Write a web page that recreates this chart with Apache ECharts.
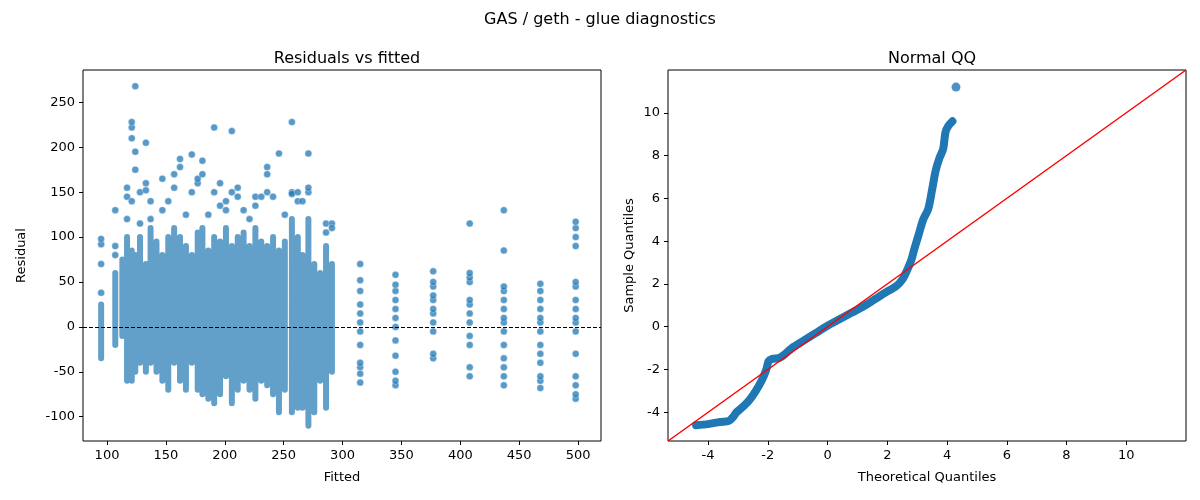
<!DOCTYPE html>
<html>
<head>
<meta charset="utf-8">
<script src="https://cdn.jsdelivr.net/npm/echarts@6/dist/echarts.min.js"></script>
<style>html,body{margin:0;padding:0;background:#fff}#chart{width:1200px;height:500px}</style>
</head>
<body>
<div id="chart"></div>
<script>
// dense fitted columns: x, lower and upper edge of the packed points
var denseX  = [95,107,113,117,121,124,128,133,137,142,147,152,157,162,167,172,177,181,186,191,196,201,206,211,216,221,226,231,236,241,246,251,257,262,266,271,276,281,286,291];
var denseLo = [-35,-20,-10,-60,-60,-50,-40,-50,-40,-50,-60,-70,-40,-60,-70,-40,-70,-75,-80,-85,-75,-55,-85,-70,-60,-70,-80,-60,-65,-75,-95,-70,-95,-90,-90,-110,-95,-60,-90,-50];
var denseHi = [25,60,75,100,85,80,100,70,110,95,80,100,110,100,90,80,105,110,85,100,95,110,90,100,105,90,110,95,90,100,85,95,120,100,80,120,70,60,90,70];
// isolated points [fitted, residual]
var outliers = [[95,38],[95,70],[95,92],[95,98],[107,80],[107,90],[107,130],[117,120],[117,145],[117,155],
  [121,210],[121,222],[121,228],[121,140],[124,268],[124,175],[124,195],[128,115],[128,150],[133,160],[133,152],[133,205],
  [137,120],[137,140],[147,130],[147,165],[152,140],[157,170],[157,155],[162,187],[162,178],[167,125],[172,192],[172,150],
  [177,160],[177,165],[181,185],[181,170],[186,125],[191,222],[191,150],[196,160],[196,135],[201,140],[201,130],
  [206,218],[206,150],[211,145],[211,155],[216,130],[221,120],[226,145],[226,135],[231,145],[236,170],[236,178],[236,150],
  [241,145],[246,193],[251,125],[257,150],[257,148],[257,228],[262,140],[262,150],[266,140],[271,150],[271,155],[271,193],
  [286,115],[286,105],[291,115],[291,110]];
// sparse columns at high fitted values
var sparseX = [315,345,377,408,437,468,498];
var sparseRes = [
  [-62,-52,-45,-40,-20,-5,5,15,25,40,52,70],
  [-65,-60,-50,-32,-15,0,10,20,30,40,47,58],
  [-35,-30,-5,5,15,20,30,35,45,50,62],
  [-55,-45,-20,-10,5,15,25,30,50,55,60,115],
  [-65,-55,-45,-35,-20,-5,5,10,20,30,40,45,85,130],
  [-68,-60,-55,-40,-30,-20,-5,5,10,20,30,40,48],
  [-80,-75,-65,-55,-30,-5,5,10,20,30,45,50,90,100,110,117]
];
// QQ curve
var qqTheo   = [-4.4,-4.0,-3.6,-3.3,-3.15,-3.05,-2.8,-2.6,-2.4,-2.2,-2.05,-1.97,-1.85,-1.6,-1.4,-1.2,-0.8,-0.4,0,0.4,0.8,1.2,1.6,2.0,2.3,2.5,2.65,2.8,2.9,3.05,3.2,3.37,3.5,3.62,3.75,3.87,3.95,4.05,4.18];
var qqSample = [-4.6,-4.55,-4.45,-4.4,-4.2,-4.0,-3.7,-3.4,-3.0,-2.5,-2.0,-1.6,-1.5,-1.45,-1.25,-1.0,-0.65,-0.3,0.05,0.35,0.65,0.95,1.3,1.65,1.9,2.2,2.6,3.1,3.6,4.3,5.0,5.5,6.4,7.3,7.9,8.3,9.1,9.4,9.6];
var qqTop = [[4.3,11.2]];
var leftXTicks = [100,150,200,250,300,350,400,450,500];
var leftYTicks = [-100,-50,0,50,100,150,200,250];
var qqTicks = [-4,-2,0,2,4,6,8,10];

var blue = '#1f77b4';
var font = 'DejaVu Sans';
var segData = [];
for (var i = 0; i < denseX.length; i++) {
  segData.push([denseX[i], denseLo[i]], [denseX[i], denseHi[i]], '-');
}
var sparseData = [];
sparseX.forEach(function (x, k) { sparseRes[k].forEach(function (r) { sparseData.push([x, r]); }); });
var qqData = qqTheo.map(function (t, i) { return [t, qqSample[i]]; });

function axisCommon(ticks) {
  return {
    axisLine: {show: false, onZero: false},
    axisTick: {show: true, customValues: ticks, length: 4, lineStyle: {color: '#000'}},
    axisLabel: {customValues: ticks, color: '#000', fontFamily: font, fontSize: 13},
    splitLine: {show: false},
    nameTextStyle: {color: '#000', fontFamily: font, fontSize: 13}
  };
}
var chart = echarts.init(document.getElementById('chart'));
chart.setOption({
  animation: false,
  title: [
    {text: 'GAS / geth - glue diagnostics', left: 'center', top: 7, textStyle: {fontFamily: font, fontSize: 16, fontWeight: 'normal', color: '#000'}},
    {text: 'Residuals vs fitted', left: 342, top: 46, textAlign: 'center', textStyle: {fontFamily: font, fontSize: 16, fontWeight: 'normal', color: '#000'}},
    {text: 'Normal QQ', left: 927, top: 46, textAlign: 'center', textStyle: {fontFamily: font, fontSize: 16, fontWeight: 'normal', color: '#000'}}
  ],
  grid: [
    {left: 83, right: 599, top: 70, bottom: 59, show: true, borderColor: '#000', borderWidth: 1},
    {left: 668, right: 14, top: 70, bottom: 59, show: true, borderColor: '#000', borderWidth: 1}
  ],
  xAxis: [
    Object.assign(axisCommon(leftXTicks), {gridIndex: 0, type: 'value', min: 79.6, max: 519.5, name: 'Fitted', nameLocation: 'middle', nameGap: 30}),
    Object.assign(axisCommon(qqTicks), {gridIndex: 1, type: 'value', min: -5.34, max: 12.0, name: 'Theoretical Quantiles', nameLocation: 'middle', nameGap: 30})
  ],
  yAxis: [
    Object.assign(axisCommon(leftYTicks), {gridIndex: 0, type: 'value', min: -127, max: 286, name: 'Residual', nameLocation: 'middle', nameGap: 55}),
    Object.assign(axisCommon(qqTicks), {gridIndex: 1, type: 'value', min: -5.34, max: 12.0, name: 'Sample Quantiles', nameLocation: 'middle', nameGap: 32})
  ],
  series: [
    {type: 'line', xAxisIndex: 0, yAxisIndex: 0, data: segData, symbol: 'none', connectNulls: false,
     lineStyle: {color: blue, width: 6, opacity: 0.7, cap: 'round'}},
    {type: 'scatter', xAxisIndex: 0, yAxisIndex: 0, data: outliers.concat(sparseData), symbolSize: 7,
     itemStyle: {color: blue, opacity: 0.75, borderColor: '#fff', borderWidth: 0.5},
     markLine: {silent: true, symbol: 'none', label: {show: false},
       lineStyle: {color: '#000', type: [4, 2], width: 1}, data: [{yAxis: 0}]}},
    {type: 'line', xAxisIndex: 1, yAxisIndex: 1, data: qqData, symbol: 'none', smooth: 0.3,
     lineStyle: {color: blue, width: 8, cap: 'round', join: 'round'}},
    {type: 'scatter', xAxisIndex: 1, yAxisIndex: 1, data: qqTop, symbolSize: 9, itemStyle: {color: blue}},
    {type: 'line', xAxisIndex: 1, yAxisIndex: 1, data: [[-5.34, -5.34], [12, 12]], symbol: 'none',
     lineStyle: {color: '#ff0000', width: 1.5}, z: 5}
  ]
});
</script>
</body>
</html>
